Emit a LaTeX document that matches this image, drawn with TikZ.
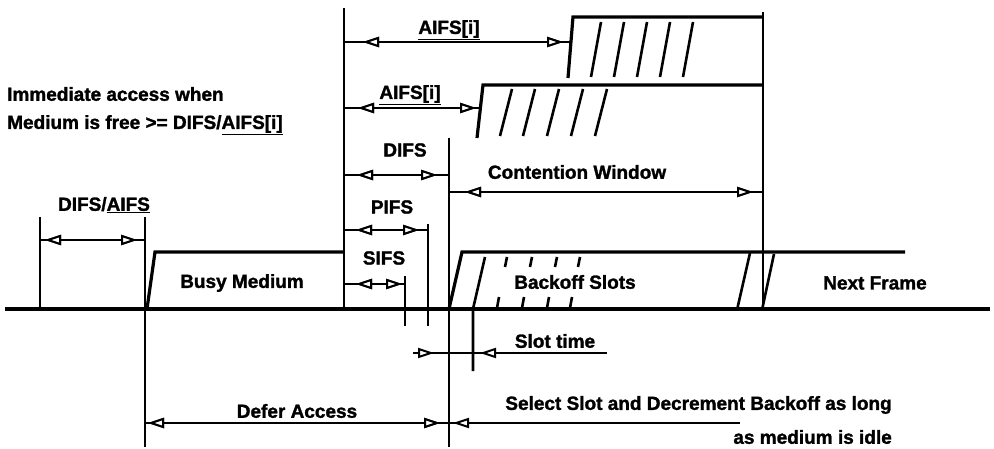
\documentclass[tikz,border=0pt]{standalone}
\usepackage{fontspec}
\setmainfont{Liberation Sans}[BoldFeatures={FakeBold=1.5}]
\usetikzlibrary{arrows.meta,decorations.markings}
\tikzset{
  lbl/.style={font=\fontsize{19}{21}\selectfont\bfseries, inner sep=0pt},
  lblL/.style={lbl, anchor=west},
  base/.style={line width=3.8pt},
  vline/.style={line width=2.6pt},
  box/.style={line width=3.2pt},
  hatch/.style={line width=2.6pt},
  dimline/.style={line width=2.2pt},
  tipst/.style={line width=2pt},
  headL/.style={postaction={decorate}, decoration={markings,
      mark=at position #1 with {\arrowreversed[tipst]{Triangle[length=16pt,width=10pt,fill=white]}}}},
  headR/.style={postaction={decorate}, decoration={markings,
      mark=at position -#1 with {\arrow[tipst]{Triangle[length=16pt,width=10pt,fill=white]}}}},
  tip/.style={tipst, -{Triangle[length=16pt,width=10pt,fill=white]}},
}
\begin{document}
\begin{tikzpicture}[x=1pt,y=-1pt]
\useasboundingbox (0,0) rectangle (994,449);

% key coordinates
\coordinate (bl) at (5,309);
\coordinate (br) at (990,309);
\coordinate (v1t) at (40,217);   \coordinate (v1b) at (40,309);
\coordinate (v2t) at (145,217);  \coordinate (v2b) at (145,447);
\coordinate (v3t) at (344,8);    \coordinate (v3b) at (344,309);
\coordinate (v4t) at (449,138);  \coordinate (v4b) at (449,447);
\coordinate (v5t) at (428,224);  \coordinate (v5b) at (428,326);
\coordinate (v6t) at (405,276);  \coordinate (v6b) at (405,326);
\coordinate (v7t) at (763,12);   \coordinate (v7b) at (763,310);
\coordinate (stb) at (473,371);

% baseline
\draw[base] (bl) -- (br);

% verticals
\draw[vline] (v1t) -- (v1b);
\draw[vline] (v2t) -- (v2b);
\draw[vline] (v3t) -- (v3b);
\draw[vline] (v4t) -- (v4b);
\draw[vline] (v5t) -- (v5b);
\draw[vline] (v6t) -- (v6b);
\draw[vline] (v7t) -- (v7b);

% busy medium
\draw[box] (147,309) -- (155,252) -- (343,252);
% backoff / next frame
\draw[box] (449,309) -- (462,252) -- (905,252);
\draw[hatch] (485,257) -- (473,309) -- (stb);
\foreach \x in {497,522,547,570}{
  \draw[hatch] (\x,308) -- (\x+2,297);
  \draw[hatch] (\x+8,267) -- (\x+10,257);
}
\draw[hatch] (737,310) -- (750,253);
\draw[hatch] (762,310) -- (774,254);

% top contention box (AIFS[i] first)
\draw[box] (568,78) -- (573,17) -- (763,17);
\foreach \x in {591,614,637,660,683}{
  \draw[hatch] (\x,77) -- (\x+10,22);
}
% second contention box
\draw[box] (477,138) -- (483,85) -- (763,85);
\foreach \x in {500,523,547,571,595}{
  \draw[hatch] (\x,136) -- (\x+12,89);
}

% dimension arrows
\coordinate (a1l) at (344,42);  \coordinate (a1r) at (570,42);
\draw[dimline, headL=19pt, headR=7pt] (a1l) -- (a1r);
\coordinate (a2l) at (344,108); \coordinate (a2r) at (479,108);
\draw[dimline, headL=14pt, headR=3pt] (a2l) -- (a2r);
\coordinate (dl) at (344,175);  \coordinate (dr) at (449,175);
\draw[dimline, headL=13pt, headR=12pt] (dl) -- (dr);
\coordinate (cwl) at (449,192); \coordinate (cwr) at (763,192);
\draw[dimline, headL=16pt, headR=10pt] (cwl) -- (cwr);
\coordinate (pl) at (344,230);  \coordinate (pr) at (428,230);
\draw[dimline, headL=12pt, headR=9pt] (pl) -- (pr);
\coordinate (sl) at (344,284);  \coordinate (sr) at (405,284);
\draw[dimline, headL=12pt, headR=3pt] (sl) -- (sr);
\coordinate (dal) at (40,240);  \coordinate (dar) at (145,240);
\draw[dimline, headL=5pt, headR=8pt] (dal) -- (dar);
\coordinate (dfl) at (145,423); \coordinate (dfr) at (449,423);
\draw[dimline, headL=3pt, headR=9pt] (dfl) -- (dfr);
\coordinate (ssl) at (449,423); \coordinate (ssr) at (740,423);
\draw[dimline, headL=4pt] (ssl) -- (ssr);
% slot time
\coordinate (stl) at (413,353); \coordinate (str) at (607,353);
\draw[dimline] (stl) -- (str);
\draw[tip] (418,353) -- (434,353);
\draw[tip] (500,353) -- (480,353);

% labels
\node[lblL] (imm1) at (7,94) {Immediate access when};
\node[lblL] (imm2) at (7,125) {Medium is free >= DIFS/\underline{AIFS[i]}};
\node[lbl] (t1) at (449,30) {\underline{AIFS[i]}};
\node[lbl] (t2) at (410,95) {\underline{AIFS[i]}};
\node[lbl] (tdifs) at (405,150) {DIFS};
\node[lbl] (tcw) at (577,172) {Contention Window};
\node[lbl] (tpifs) at (392,207) {PIFS};
\node[lbl] (tsifs) at (384,258) {SIFS};
\node[lbl] (tda) at (104,205) {DIFS/\underline{AIFS}};
\node[lbl] (tbusy) at (242,283) {Busy Medium};
\node[lbl] (tback) at (575,282) {Backoff Slots};
\node[lbl] (tnext) at (875,283) {Next Frame};
\node[lbl] (tslot) at (555,341) {Slot time};
\node[lbl] (tdefer) at (297,411) {Defer Access};
\node[lbl, anchor=east] (tsel) at (892,405) {Select Slot and Decrement Backoff as long};
\node[lbl, anchor=east] (tidle) at (892,437) {as medium is idle};
\end{tikzpicture}
\end{document}
